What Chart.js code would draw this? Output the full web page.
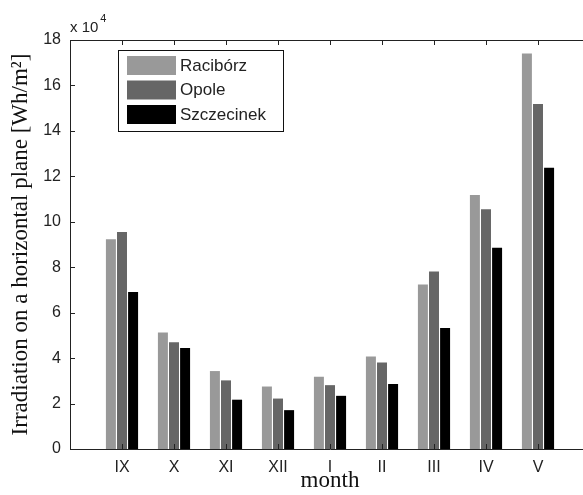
<!DOCTYPE html>
<html>
<head>
<meta charset="utf-8">
<script src="https://cdn.jsdelivr.net/npm/chart.js@4/dist/chart.umd.min.js"></script>
<style>
html,body{margin:0;padding:0;overflow:hidden;background:#fff;width:583px;height:495px;}
#wrap{position:absolute;left:0;top:0;width:600px;height:495px;}
</style>
</head>
<body>
<div id="wrap"><canvas id="c" width="600" height="495"></canvas></div>
<script>
// Data (Wh/m^2)
const months = ['IX', 'X', 'XI', 'XII', 'I', 'II', 'III', 'IV', 'V'];
const raciborz   = [92300, 51300, 34300, 27500, 31800, 40700, 72400, 111800, 174100];
const opole      = [95500, 47000, 30200, 22200, 28100, 38100, 78100, 105500, 151800];
const szczecinek = [69100, 44400, 21700, 17100, 23400, 28600, 53300, 88600, 123800];
const seriesNames = ['Racibórz', 'Opole', 'Szczecinek'];
const seriesColors = ['#999999', '#666666', '#000000'];
const yTicks = [0, 20000, 40000, 60000, 80000, 100000, 120000, 140000, 160000, 180000];

const labels = [''].concat(months, ['']);
const pad = arr => [null].concat(arr, [null]);
const allSeries = [raciborz, opole, szczecinek];

const SANS = "'Liberation Sans', Arial, sans-serif";
const SERIF = "'Liberation Serif', 'Times New Roman', serif";

const framePlugin = {
  id: 'frame',
  afterDraw(chart) {
    const ctx = chart.ctx;
    const a = chart.chartArea;
    const xs = chart.scales.x, ys = chart.scales.y;
    ctx.save();
    ctx.strokeStyle = '#222';
    ctx.lineWidth = 1;
    ctx.beginPath();
    ctx.moveTo(a.left + 0.5, a.bottom + 0.5);
    ctx.lineTo(a.left + 0.5, a.top + 0.5);
    ctx.lineTo(a.right + 0.5, a.top + 0.5);
    ctx.lineTo(a.right + 0.5, a.bottom + 0.5);
    ctx.lineTo(a.left + 0.5, a.bottom + 0.5);
    ctx.stroke();
    // inward ticks
    ctx.beginPath();
    yTicks.forEach(v => {
      const y = Math.round(ys.getPixelForValue(v)) + 0.5;
      ctx.moveTo(a.left, y); ctx.lineTo(a.left + 5, y);
      ctx.moveTo(a.right, y); ctx.lineTo(a.right - 5, y);
    });
    for (let i = 1; i <= months.length; i++) {
      const x = Math.round(xs.getPixelForValue(i)) + 0.5;
      ctx.moveTo(x, a.top); ctx.lineTo(x, a.top + 5);
      ctx.moveTo(x, a.bottom); ctx.lineTo(x, a.bottom - 5);
    }
    ctx.stroke();
    // exponent label
    ctx.fillStyle = '#222';
    ctx.textBaseline = 'alphabetic';
    ctx.textAlign = 'left';
    ctx.font = '15px ' + SANS;
    ctx.fillText('x 10', a.left, 32);
    const w = ctx.measureText('x 10').width;
    ctx.font = '11px ' + SANS;
    ctx.fillText('4', a.left + w + 2, 22);
    // legend
    const lx = 118, ly = 50, lw = 165, lh = 81;
    ctx.fillStyle = '#fff';
    ctx.fillRect(lx, ly, lw, lh);
    ctx.strokeStyle = '#111';
    ctx.strokeRect(lx + 0.5, ly + 0.5, lw, lh);
    ctx.font = '17px ' + SANS;
    ctx.textBaseline = 'middle';
    chart.data.datasets.forEach((ds, i) => {
      const sy = 56 + i * 24.5;
      ctx.fillStyle = ds.backgroundColor;
      ctx.fillRect(127, sy, 49, 19);
      ctx.fillStyle = '#222';
      ctx.fillText(ds.label, 180, sy + 10);
    });
    ctx.restore();
  }
};

new Chart(document.getElementById('c'), {
  type: 'bar',
  data: {
    labels: labels,
    datasets: allSeries.map((s, i) => ({
      label: seriesNames[i],
      data: pad(s),
      backgroundColor: seriesColors[i],
      borderWidth: 0,
      categoryPercentage: 0.64,
      barPercentage: 0.9
    }))
  },
  options: {
    responsive: false,
    animation: false,
    devicePixelRatio: 1,
    layout: { padding: { top: 40, right: 10, left: 0, bottom: 0 } },
    plugins: { legend: { display: false }, tooltip: { enabled: false } },
    scales: {
      x: {
        offset: false,
        grid: { display: false, offset: false, drawTicks: false },
        border: { display: false },
        ticks: { color: '#222', font: { family: SANS, size: 16 }, padding: 9, maxRotation: 0, autoSkip: false },
        title: { display: true, text: 'month', color: '#111', font: { family: SERIF, size: 23 }, padding: { top: 0, bottom: 0 } },
        afterFit(scale) { scale.height = 46; }
      },
      y: {
        min: 0, max: 180000,
        grid: { display: false, drawTicks: false },
        border: { display: false },
        afterBuildTicks(scale) { scale.ticks = yTicks.map(v => ({ value: v })); },
        ticks: { color: '#222', font: { family: SANS, size: 16 }, padding: 9, callback: v => String(v / 10000) },
        title: { display: true, text: 'Irradiation on a horizontal plane [Wh/m²]', color: '#111', font: { family: SERIF, size: 23 }, padding: { top: 7, bottom: 0 } },
        afterFit(scale) { scale.width = 70; }
      }
    }
  },
  plugins: [framePlugin]
});
</script>
</body>
</html>
